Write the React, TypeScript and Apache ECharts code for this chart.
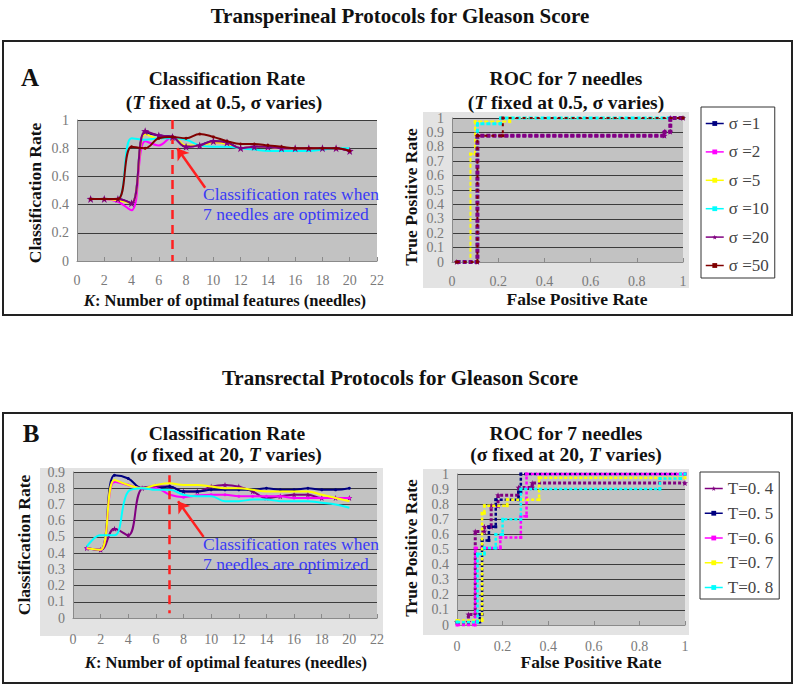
import React, { useEffect, useRef } from "react";
import * as echarts from "echarts";

// ---------- categories / labels ----------
const kValues = [1, 2, 3, 4, 5, 6, 7, 8, 9, 10, 11, 12, 13, 14, 15, 16, 17, 18, 19, 20];
const sigmaNames = ["σ =1", "σ =2", "σ =5", "σ =10", "σ =20", "σ =50"];
const tNames = ["T=0. 4", "T=0. 5", "T=0. 6", "T=0. 7", "T=0. 8"];

// ---------- Panel A: classification rate (T = 0.5, sigma varies) ----------
const rateSigma1 = [0.44, 0.44, 0.44, 0.41, 0.91, 0.89, 0.88, 0.81, 0.82, 0.85, 0.84, 0.80, 0.81, 0.81, 0.80, 0.80, 0.80, 0.80, 0.80, 0.78];
const rateSigma2 = [0.44, 0.44, 0.42, 0.36, 0.85, 0.82, 0.88, 0.81, 0.82, 0.84, 0.83, 0.80, 0.81, 0.81, 0.80, 0.80, 0.80, 0.80, 0.80, 0.78];
const rateSigma5 = [0.44, 0.44, 0.43, 0.41, 0.90, 0.87, 0.88, 0.82, 0.82, 0.84, 0.83, 0.80, 0.81, 0.81, 0.80, 0.80, 0.80, 0.80, 0.80, 0.79];
const rateSigma10 = [0.44, 0.44, 0.44, 0.87, 0.86, 0.87, 0.87, 0.86, 0.82, 0.81, 0.81, 0.80, 0.79, 0.78, 0.78, 0.78, 0.78, 0.79, 0.80, 0.80];
const rateSigma20 = [0.44, 0.44, 0.44, 0.41, 0.92, 0.89, 0.88, 0.81, 0.82, 0.85, 0.84, 0.80, 0.81, 0.81, 0.80, 0.80, 0.80, 0.80, 0.80, 0.78];
const rateSigma50 = [0.44, 0.44, 0.44, 0.81, 0.80, 0.87, 0.88, 0.87, 0.90, 0.88, 0.85, 0.83, 0.83, 0.82, 0.81, 0.80, 0.80, 0.80, 0.80, 0.78];

// ---------- Panel A: ROC for 7 needles ----------
const rocAFprSigma1 = [0.02, 0.11, 0.11, 0.92, 0.92, 0.945, 0.945, 1];
const rocATprSigma1 = [0, 0, 0.877, 0.877, 0.905, 0.905, 1, 1];
const rocAFprSigma2 = [0.02, 0.11, 0.11, 0.92, 0.92, 0.945, 0.945, 1];
const rocATprSigma2 = [0, 0, 0.877, 0.877, 0.905, 0.905, 1, 1];
const rocAFprSigma5 = [0.02, 0.08, 0.08, 0.1, 0.1, 0.25, 0.25, 1];
const rocATprSigma5 = [0, 0, 0.75, 0.75, 0.975, 0.975, 1, 1];
const rocAFprSigma10 = [0.02, 0.11, 0.11, 0.21, 0.21, 1];
const rocATprSigma10 = [0, 0, 0.96, 0.96, 1, 1];
const rocAFprSigma20 = [0.02, 0.11, 0.11, 0.92, 0.92, 0.945, 0.945, 1];
const rocATprSigma20 = [0, 0, 0.877, 0.877, 0.905, 0.905, 1, 1];
const rocAFprSigma50 = [0.02, 0.11, 0.11, 0.22, 0.22, 1];
const rocATprSigma50 = [0, 0, 0.877, 0.877, 1, 1];

// ---------- Panel B: classification rate (sigma = 20, T varies) ----------
const rateT04 = [0.43, 0.42, 0.55, 0.51, 0.80, 0.81, 0.81, 0.78, 0.78, 0.81, 0.82, 0.81, 0.78, 0.74, 0.75, 0.76, 0.76, 0.74, 0.74, 0.74];
const rateT05 = [0.43, 0.42, 0.88, 0.86, 0.80, 0.80, 0.81, 0.78, 0.78, 0.79, 0.79, 0.79, 0.79, 0.80, 0.79, 0.79, 0.80, 0.79, 0.79, 0.80];
const rateT06 = [0.43, 0.42, 0.84, 0.82, 0.80, 0.80, 0.76, 0.745, 0.755, 0.76, 0.76, 0.75, 0.75, 0.75, 0.75, 0.74, 0.74, 0.74, 0.74, 0.74];
const rateT07 = [0.43, 0.42, 0.85, 0.82, 0.80, 0.82, 0.83, 0.82, 0.82, 0.81, 0.80, 0.80, 0.79, 0.78, 0.78, 0.78, 0.78, 0.76, 0.74, 0.72];
const rateT08 = [0.44, 0.51, 0.51, 0.78, 0.80, 0.79, 0.79, 0.76, 0.75, 0.75, 0.72, 0.72, 0.73, 0.73, 0.72, 0.72, 0.72, 0.71, 0.70, 0.68];

// ---------- Panel B: ROC for 7 needles ----------
const rocBFprT04 = [0, 0.05, 0.05, 0.08, 0.08, 0.12, 0.12, 0.15, 0.15, 0.18, 0.18, 0.27, 0.27, 0.33, 0.33, 1];
const rocBTprT04 = [0.02, 0.02, 0.07, 0.07, 0.62, 0.62, 0.65, 0.65, 0.79, 0.79, 0.86, 0.86, 0.91, 0.91, 0.94, 0.94];
const rocBFprT05 = [0, 0.1, 0.1, 0.11, 0.11, 0.14, 0.14, 0.17, 0.17, 0.27, 0.27, 0.28, 0.28, 1];
const rocBTprT05 = [0.02, 0.02, 0.07, 0.07, 0.56, 0.56, 0.65, 0.65, 0.83, 0.83, 0.88, 0.88, 1, 1];
const rocBFprT06 = [0, 0.08, 0.08, 0.19, 0.19, 0.28, 0.28, 0.305, 0.305, 1];
const rocBTprT06 = [0, 0, 0.51, 0.51, 0.58, 0.58, 0.72, 0.72, 1, 1];
const rocBFprT07 = [0, 0.11, 0.11, 0.12, 0.12, 0.22, 0.22, 0.36, 0.36, 1];
const rocBTprT07 = [0.03, 0.03, 0.74, 0.74, 0.79, 0.79, 0.83, 0.83, 0.975, 0.975];
const rocBFprT08 = [0, 0.09, 0.09, 0.12, 0.12, 0.17, 0.17, 0.2, 0.2, 0.28, 0.28, 0.89, 0.89, 0.98, 0.98, 1];
const rocBTprT08 = [0.02, 0.02, 0.47, 0.47, 0.51, 0.51, 0.6, 0.6, 0.7, 0.7, 0.9, 0.9, 0.97, 0.97, 1, 1];

// ---------- styling ----------
const sigmaColors = ["#000080", "#ff00ff", "#ffff00", "#00ffff", "#800080", "#800000"];
const tColors = ["#800080", "#000080", "#ff00ff", "#ffff00", "#00ffff"];
const SERIF = "'Liberation Serif', 'Times New Roman', serif";
const STAR = "path://M5,0 L6.2,3.5 L10,3.8 L7,6.1 L8.1,10 L5,7.7 L1.9,10 L3,6.1 L0,3.8 L3.8,3.5 Z";

const pair = (xs: number[], ys: number[]) => xs.map((x, i) => [x, ys[i]]);

function App() {
  const ref = useRef<HTMLDivElement>(null);

  useEffect(() => {
    if (!ref.current) return;
    const chart = echarts.init(ref.current, undefined, { renderer: "svg" });

    const axisLabel = { color: "#7a7a7a", fontFamily: SERIF, fontSize: 14 };
    const mkX = (gi: number, max: number, interval: number, margin: number) => ({
      type: "value",
      gridIndex: gi,
      min: 0,
      max,
      interval,
      axisLine: { show: true, lineStyle: { color: "#8a8a8a", width: 1 } },
      axisTick: { show: true, inside: true, length: 4, lineStyle: { color: "#8a8a8a" } },
      splitLine: { show: false },
      axisLabel: { ...axisLabel, margin },
    });
    const mkY = (gi: number, max: number, interval: number) => ({
      type: "value",
      gridIndex: gi,
      min: 0,
      max,
      interval,
      axisLine: { show: true, lineStyle: { color: "#8a8a8a", width: 1 } },
      axisTick: { show: false },
      splitLine: { show: true, lineStyle: { color: "#3c3c3c", width: 1 } },
      axisLabel: { ...axisLabel, margin: 8 },
    });

    const gridBase = { show: true, backgroundColor: "#c2c2c2", borderWidth: 0, containLabel: false, outerBoundsMode: "none" };

    const rateSigma = [rateSigma1, rateSigma2, rateSigma5, rateSigma10, rateSigma20, rateSigma50];
    const rocAFpr = [rocAFprSigma1, rocAFprSigma2, rocAFprSigma5, rocAFprSigma10, rocAFprSigma20, rocAFprSigma50];
    const rocATpr = [rocATprSigma1, rocATprSigma2, rocATprSigma5, rocATprSigma10, rocATprSigma20, rocATprSigma50];
    const rateT = [rateT04, rateT05, rateT06, rateT07, rateT08];
    const rocBFpr = [rocBFprT04, rocBFprT05, rocBFprT06, rocBFprT07, rocBFprT08];
    const rocBTpr = [rocBTprT04, rocBTprT05, rocBTprT06, rocBTprT07, rocBTprT08];

    const rocAWidths = [2, 2, 2, 3, 4, 2];
    const rocADash = [[4, 2], [4, 2], [4, 2], [4, 2], [4, 2], [3, 4]];

    const series: any[] = [];

    // ROC A (listed first so legend icons come from these)
    sigmaNames.forEach((name, i) => {
      series.push({
        type: "line",
        name,
        xAxisIndex: 1,
        yAxisIndex: 1,
        data: pair(rocAFpr[i], rocATpr[i]),
        clip: false,
        symbol: i === 4 ? STAR : "rect",
        symbolSize: i === 4 ? 6 : 3,
        showSymbol: true,
        itemStyle: { color: sigmaColors[i] },
        lineStyle: { color: sigmaColors[i], width: rocAWidths[i], type: rocADash[i] },
        z: 2 + i,
      });
    });

    // ROC B
    tNames.forEach((name, i) => {
      series.push({
        type: "line",
        name,
        xAxisIndex: 3,
        yAxisIndex: 3,
        data: pair(rocBFpr[i], rocBTpr[i]),
        clip: false,
        symbol: i === 0 ? STAR : "rect",
        symbolSize: i === 0 ? 6 : 3,
        showSymbol: true,
        itemStyle: { color: tColors[i] },
        lineStyle: { color: tColors[i], width: i === 0 ? 3 : 2.5, type: [3, 2] },
        z: 2 + i,
      });
    });

    // Classification rate A
    sigmaNames.forEach((name, i) => {
      const s: any = {
        type: "line",
        name,
        xAxisIndex: 0,
        yAxisIndex: 0,
        data: kValues.map((k, j) => [k, rateSigma[i][j]]),
        smooth: 0.4,
        clip: false,
        symbol: i === 4 ? STAR : "circle",
        symbolSize: i === 4 ? 8 : 3,
        showSymbol: i === 4 || i === 5,
        itemStyle: { color: sigmaColors[i] },
        lineStyle: { color: sigmaColors[i], width: 2 },
        z: 2 + i,
      };
      if (i === 5) {
        s.markLine = {
          silent: true,
          animation: false,
          label: { show: false },
          symbol: ["none", "none"],
          data: [
            [
              { coord: [7, 1], lineStyle: { color: "#ff2020", width: 2.5, type: [9, 6] } },
              { coord: [7, 0] },
            ],
            [
              { coord: [9.4, 0.52], symbol: "none", lineStyle: { color: "#ff2020", width: 2.5, type: "solid" } },
              { coord: [7.35, 0.8], symbol: "arrow", symbolSize: 11 },
            ],
          ],
        };
      }
      series.push(s);
    });

    // Classification rate B
    tNames.forEach((name, i) => {
      const s: any = {
        type: "line",
        name,
        xAxisIndex: 2,
        yAxisIndex: 2,
        data: kValues.map((k, j) => [k, rateT[i][j]]),
        smooth: 0.4,
        clip: false,
        symbol: i === 0 ? STAR : "circle",
        symbolSize: i === 0 ? 6 : 3,
        showSymbol: i <= 2,
        itemStyle: { color: tColors[i] },
        lineStyle: { color: tColors[i], width: 2 },
        z: 2 + i,
      };
      if (i === 4) {
        s.markLine = {
          silent: true,
          animation: false,
          label: { show: false },
          symbol: ["none", "none"],
          data: [
            [
              { coord: [7, 0.88], lineStyle: { color: "#ff2020", width: 2.5, type: [9, 6] } },
              { coord: [7, 0.03] },
            ],
            [
              { coord: [9.45, 0.5], symbol: "none", lineStyle: { color: "#ff2020", width: 2.5, type: "solid" } },
              { coord: [7.6, 0.72], symbol: "arrow", symbolSize: 11 },
            ],
          ],
        };
      }
      series.push(s);
    });

    const titleFont = { fontFamily: SERIF, fontWeight: "bold", fill: "#111", align: "center", verticalAlign: "middle" };
    const txt = (x: number, y: number, text: string, size: number, extra: any = {}) => ({
      type: "text",
      x,
      y,
      z: 20,
      style: {
        ...titleFont,
        text,
        fontSize: size,
        rich: {
          i: { fontFamily: SERIF, fontWeight: "bold", fontStyle: "italic", fontSize: size, fill: "#111" },
          n: { fontFamily: SERIF, fontWeight: "bold", fontSize: size, fill: "#111" },
        },
        ...extra,
      },
    });
    const vtxt = (x: number, y: number, text: string, size: number) => ({
      ...txt(x, y, text, size),
      rotation: Math.PI / 2,
    });

    const graphic: any[] = [
      // panel boxes
      { type: "rect", z: -5, shape: { x: 3, y: 41, width: 789, height: 274 }, style: { fill: "#fff", stroke: "#222", lineWidth: 2 } },
      { type: "rect", z: -5, shape: { x: 3, y: 413, width: 789, height: 270 }, style: { fill: "#fff", stroke: "#222", lineWidth: 2 } },
      // chart-area backgrounds
      { type: "rect", z: -4, shape: { x: 423, y: 112, width: 266, height: 176 }, style: { fill: "#e3e3e3" } },
      { type: "rect", z: -4, shape: { x: 40, y: 468, width: 343, height: 168 }, style: { fill: "#e3e3e3" } },
      { type: "rect", z: -4, shape: { x: 423, y: 469, width: 266, height: 166 }, style: { fill: "#e3e3e3" } },
      // section titles
      txt(400, 16, "Transperineal Protocols for Gleason Score", 21),
      txt(400, 378, "Transrectal Protocols for Gleason Score", 21),
      txt(30, 77, "A", 25),
      txt(31, 433, "B", 25),
      // panel A titles
      txt(227, 78, "Classification Rate", 19.5),
      txt(224, 102, "({i|T}{n| fixed at 0.5, σ varies})", 19.5),
      txt(566, 78, "ROC for 7 needles", 19.5),
      txt(566, 102, "({i|T}{n| fixed at 0.5, σ varies})", 19.5),
      // panel B titles
      txt(227, 433, "Classification Rate", 19.5),
      txt(226, 454, "(σ fixed at 20, {i|T}{n| varies})", 19.5),
      txt(566, 433, "ROC for 7 needles", 19.5),
      txt(566, 454, "(σ fixed at 20, {i|T}{n| varies})", 19.5),
      // axis titles A
      txt(225, 300, "{i|K}{n|: Number of optimal features (needles)}", 16.5),
      vtxt(35, 193, "Classification Rate", 17.5),
      txt(577, 299, "False Positive Rate", 17.5),
      vtxt(411, 197, "True Positive Rate", 17.5),
      // axis titles B
      txt(226, 662, "{i|K}{n|: Number of optimal features (needles)}", 16.5),
      vtxt(24, 545, "Classification Rate", 17.5),
      txt(591, 662, "False Positive Rate", 17.5),
      vtxt(411, 548, "True Positive Rate", 17.5),
      // annotations
      {
        type: "text",
        x: 203,
        y: 184,
        z: 20,
        style: { text: "Classification rates when\n7 needles are optimized", fontFamily: SERIF, fontSize: 17.5, lineHeight: 20, fill: "#3a3af5" },
      },
      {
        type: "text",
        x: 203,
        y: 534,
        z: 20,
        style: { text: "Classification rates when\n7 needles are optimized", fontFamily: SERIF, fontSize: 17.5, lineHeight: 20, fill: "#3a3af5" },
      },
    ];

    const legendBase = {
      orient: "vertical",
      borderColor: "#333",
      borderWidth: 1,
      borderRadius: 0,
      backgroundColor: "#fff",
      itemWidth: 18,
      itemHeight: 6,
      selectedMode: false,
      lineStyle: { width: 1.5, type: "solid" },
      textStyle: { fontFamily: SERIF, fontSize: 17, lineHeight: 16, color: "#444" },
    };

    chart.setOption({
      animation: false,
      backgroundColor: "#fff",
      grid: [
        { ...gridBase, left: 77, top: 120, width: 300, height: 141 },
        { ...gridBase, left: 452, top: 118, width: 231, height: 144 },
        { ...gridBase, left: 73, top: 472, width: 304, height: 146 },
        { ...gridBase, left: 457, top: 474, width: 228, height: 151 },
      ],
      xAxis: [mkX(0, 22, 2, 12), mkX(1, 1, 0.2, 12), mkX(2, 22, 2, 14), mkX(3, 1, 0.2, 14)],
      yAxis: [mkY(0, 1, 0.2), mkY(1, 1, 0.1), mkY(2, 0.9, 0.1), mkY(3, 1, 0.1)],
      legend: [
        { ...legendBase, left: 701, top: 107, padding: [8, 6, 4, 4], itemGap: 11.4, data: sigmaNames },
        { ...legendBase, left: 700, top: 472, padding: [8, 6, 3, 4], itemGap: 7.75, data: tNames },
      ],
      graphic,
      series,
    } as any);

    return () => chart.dispose();
  }, []);

  return (
    <div
      ref={ref}
      style={{ position: "absolute", left: 0, top: 0, width: 800, height: 686 }}
    />
  );
}

export default App;
